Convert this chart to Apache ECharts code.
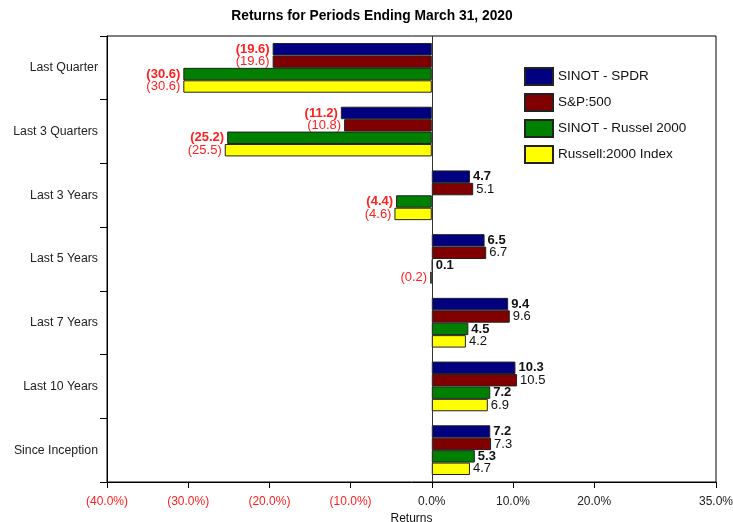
<!DOCTYPE html>
<html><head><meta charset="utf-8">
<script src="https://cdn.jsdelivr.net/npm/echarts@6/dist/echarts.min.js"></script>
<style>html,body{margin:0;padding:0;background:#fff}#c{width:733px;height:522px}</style>
</head><body><div id="c"></div>
<script>
const categories = ["Last Quarter","Last 3 Quarters","Last 3 Years","Last 5 Years","Last 7 Years","Last 10 Years","Since Inception"];
const seriesNames = ["SINOT - SPDR","S&P:500","SINOT - Russel 2000","Russell:2000 Index"];
const sinotSpdr = [-19.6,-11.2,4.7,6.5,9.4,10.3,7.2];
const sp500 = [-19.6,-10.8,5.1,6.7,9.6,10.5,7.3];
const sinotRussell = [-30.6,-25.2,-4.4,0.1,4.5,7.2,5.3];
const russell2000 = [-30.6,-25.5,-4.6,-0.2,4.2,6.9,4.7];
const tickValues = [-40,-30,-20,-10,0,10,20,35];
const colors = ["#000080","#800000","#008000","#ffff00"];
const boldFlags = [true,false,true,false];
const allValues = [sinotSpdr, sp500, sinotRussell, russell2000];
const FONT = "Liberation Sans, Arial, sans-serif";

function fmt(v){ return v < 0 ? "(" + Math.abs(v).toFixed(1) + ")" : v.toFixed(1); }

const series = allValues.map((vals, si) => ({
  name: seriesNames[si],
  type: "bar",
  barGap: "0%",
  barCategoryGap: "22%",
  itemStyle: { color: colors[si], borderColor: "#222", borderWidth: 1 },
  data: vals.map(v => ({
    value: v,
    label: {
      show: true,
      position: v < 0 ? "left" : "right",
      distance: 3,
      color: v < 0 ? "#ff2020" : "#111",
      fontWeight: boldFlags[si] ? "bold" : "normal",
      fontSize: 13,
      fontFamily: FONT,
      padding: [2,0,0,0],
      formatter: p => fmt(p.value)
    }
  })),
  markLine: si === 0 ? {
    silent: true, symbol: "none", label: { show: false },
    lineStyle: { color: "#333", type: "solid", width: 1 },
    data: [{ xAxis: 0 }], animation: false
  } : undefined
}));

const chart = echarts.init(document.getElementById("c"), null, { renderer: "canvas" });
chart.setOption({
  animation: false,
  backgroundColor: "#fff",
  title: {
    text: "Returns for Periods Ending March 31, 2020",
    left: 367, top: 4, textAlign: "center",
    textStyle: { fontFamily: FONT, fontSize: 13.8, fontWeight: "bold", color: "#000" }
  },
  legend: {
    orient: "vertical", left: 519, top: 62,
    itemWidth: 28, itemHeight: 17, itemGap: 7,
    icon: "rect",
    textStyle: { fontFamily: FONT, fontSize: 13.5, color: "#111" },
    data: seriesNames
  },
  grid: { left: 107, right: 17, top: 36, bottom: 40, show: true, borderColor: "#000", borderWidth: 1, containLabel: false, outerBoundsMode: "none" },
  xAxis: {
    type: "value", min: -40, max: 35,
    name: "Returns", nameLocation: "middle", nameGap: 30,
    nameTextStyle: { fontFamily: FONT, fontSize: 12, color: "#111" },
    axisLine: { show: true, onZero: false, lineStyle: { color: "#000" } },
    axisTick: { show: true, length: 6, lineStyle: { color: "#000" }, customValues: tickValues },
    axisLabel: {
      customValues: tickValues, margin: 14,
      fontFamily: FONT, fontSize: 12,
      color: v => v < 0 ? "#ff2020" : "#222",
      formatter: v => v < 0 ? "(" + Math.abs(v).toFixed(1) + "%)" : v.toFixed(1) + "%"
    },
    splitLine: { show: false }
  },
  yAxis: {
    type: "category", inverse: true, data: categories,
    axisLine: { show: true, onZero: false, lineStyle: { color: "#000" } },
    axisTick: { show: true, length: 7, lineStyle: { color: "#000" } },
    axisLabel: { fontFamily: FONT, fontSize: 12.3, color: "#222", margin: 9, padding: [4,0,0,0] }
  },
  series: series
});
</script></body></html>
